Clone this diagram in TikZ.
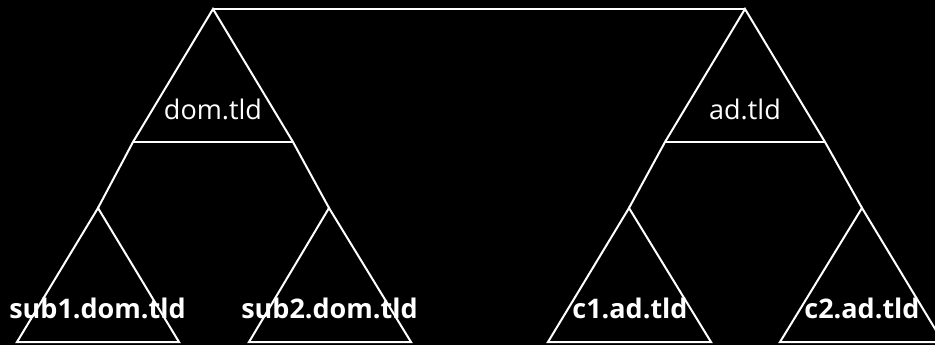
\documentclass[tikz,border=0pt]{standalone}
\usepackage{fontspec}
\setmainfont{Open Sans}
\begin{document}
\begin{tikzpicture}[x=1pt,y=-1pt,
  edge/.style={draw=white,line width=2pt,line join=miter},
  rootlbl/.style={text=white,font=\fontsize{27}{30}\selectfont,inner sep=0pt,anchor=base},
  leaflbl/.style={text=white,font=\bfseries\fontsize{27}{30}\selectfont,inner sep=0pt,anchor=base}]
\fill[black] (0,0) rectangle (935,345);
\useasboundingbox (0,0) rectangle (935,345);
\clip (0,0) rectangle (935,345);
% coordinates
\coordinate (dA) at (213,9);
\coordinate (dL) at (133,142);
\coordinate (dR) at (293,142);
\coordinate (s1A) at (98,208);
\coordinate (s1L) at (17,342);
\coordinate (s1R) at (179,342);
\coordinate (s2A) at (329,208);
\coordinate (s2L) at (249,342);
\coordinate (s2R) at (411,342);
\coordinate (aA) at (745,9);
\coordinate (aL) at (665,142);
\coordinate (aR) at (825,142);
\coordinate (c1A) at (629,208);
\coordinate (c1L) at (548,342);
\coordinate (c1R) at (711,342);
\coordinate (c2A) at (862,208);
\coordinate (c2L) at (780,342);
\coordinate (c2R) at (943,342);
% top link
\draw[edge] (dA) -- (aA);
% dom.tld tree
\draw[edge] (s1A) -- (dL) -- (dA) -- (dR) -- (s2A);
\draw[edge] (dL) -- (dR);
\draw[edge] (s1A) -- (s1L) -- (s1R) -- cycle;
\draw[edge] (s2A) -- (s2L) -- (s2R) -- cycle;
% ad.tld tree
\draw[edge] (c1A) -- (aL) -- (aA) -- (aR) -- (c2A);
\draw[edge] (aL) -- (aR);
\draw[edge] (c1A) -- (c1L) -- (c1R) -- cycle;
\draw[edge] (c2A) -- (c2L) -- (c2R) -- cycle;
% labels
\node[rootlbl] (dom) at (213,120) {dom.tld};
\node[rootlbl] (ad) at (745,120) {ad.tld};
\node[leaflbl] (sub1) at (97.5,318) {sub1.dom.tld};
\node[leaflbl] (sub2) at (329.5,318) {sub2.dom.tld};
\node[leaflbl] (c1) at (630,318) {c1.ad.tld};
\node[leaflbl] (c2) at (862,318) {c2.ad.tld};
\end{tikzpicture}
\end{document}
